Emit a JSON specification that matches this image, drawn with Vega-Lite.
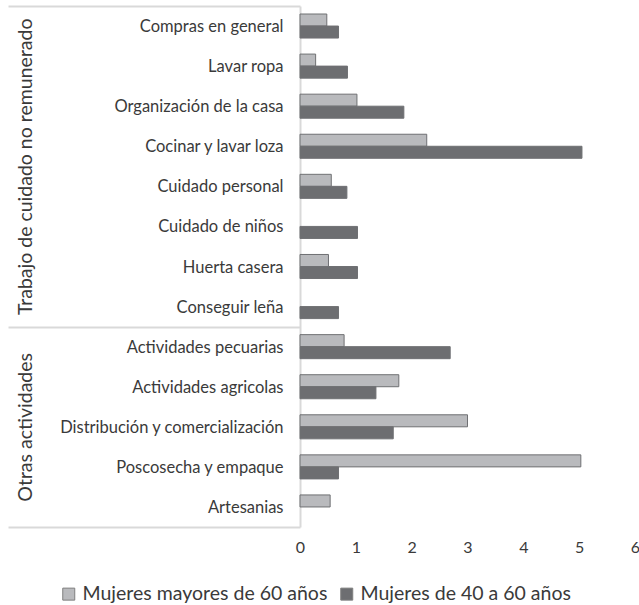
{
  "$schema": "https://vega.github.io/schema/vega-lite/v6.json",
  "width": 335,
  "height": 521,
  "autosize": "none",
  "padding": {"left": 300, "top": 6, "right": 4, "bottom": 78},
  "background": "white",
  "config": {"view": {"stroke": null}, "font": "Lato"},
  "data": {"values": [
    {"actividad": "Compras en general", "serie": "Mujeres mayores de 60 años", "valor": 0.48},
    {"actividad": "Compras en general", "serie": "Mujeres de 40 a 60 años", "valor": 0.69},
    {"actividad": "Lavar ropa", "serie": "Mujeres mayores de 60 años", "valor": 0.28},
    {"actividad": "Lavar ropa", "serie": "Mujeres de 40 a 60 años", "valor": 0.85},
    {"actividad": "Organización de la casa", "serie": "Mujeres mayores de 60 años", "valor": 1.02},
    {"actividad": "Organización de la casa", "serie": "Mujeres de 40 a 60 años", "valor": 1.86},
    {"actividad": "Cocinar y lavar loza", "serie": "Mujeres mayores de 60 años", "valor": 2.27},
    {"actividad": "Cocinar y lavar loza", "serie": "Mujeres de 40 a 60 años", "valor": 5.05},
    {"actividad": "Cuidado personal", "serie": "Mujeres mayores de 60 años", "valor": 0.56},
    {"actividad": "Cuidado personal", "serie": "Mujeres de 40 a 60 años", "valor": 0.84},
    {"actividad": "Cuidado de niños", "serie": "Mujeres de 40 a 60 años", "valor": 1.03},
    {"actividad": "Huerta casera", "serie": "Mujeres mayores de 60 años", "valor": 0.51},
    {"actividad": "Huerta casera", "serie": "Mujeres de 40 a 60 años", "valor": 1.03},
    {"actividad": "Conseguir leña", "serie": "Mujeres de 40 a 60 años", "valor": 0.69},
    {"actividad": "Actividades pecuarias", "serie": "Mujeres mayores de 60 años", "valor": 0.79},
    {"actividad": "Actividades pecuarias", "serie": "Mujeres de 40 a 60 años", "valor": 2.69},
    {"actividad": "Actividades agricolas", "serie": "Mujeres mayores de 60 años", "valor": 1.77},
    {"actividad": "Actividades agricolas", "serie": "Mujeres de 40 a 60 años", "valor": 1.36},
    {"actividad": "Distribución y comercialización", "serie": "Mujeres mayores de 60 años", "valor": 3.0},
    {"actividad": "Distribución y comercialización", "serie": "Mujeres de 40 a 60 años", "valor": 1.67},
    {"actividad": "Poscosecha y empaque", "serie": "Mujeres mayores de 60 años", "valor": 5.03},
    {"actividad": "Poscosecha y empaque", "serie": "Mujeres de 40 a 60 años", "valor": 0.69},
    {"actividad": "Artesanias", "serie": "Mujeres mayores de 60 años", "valor": 0.54}
  ]},
  "layer": [
    {
      "mark": {"type": "bar", "stroke": "#6f7073", "strokeWidth": 1},
      "encoding": {
        "y": {
          "field": "actividad", "type": "nominal",
          "sort": ["Compras en general", "Lavar ropa", "Organización de la casa", "Cocinar y lavar loza", "Cuidado personal", "Cuidado de niños", "Huerta casera", "Conseguir leña", "Actividades pecuarias", "Actividades agricolas", "Distribución y comercialización", "Poscosecha y empaque", "Artesanias"],
          "scale": {"paddingInner": 0.4, "paddingOuter": 0.2},
          "axis": {"title": null, "ticks": false, "domainColor": "#d9d9d9", "domainWidth": 2, "labelPadding": 17, "labelFontSize": 16.5, "labelColor": "#3a3a3a", "labelLimit": 0, "labelOffset": 1}
        },
        "yOffset": {
          "field": "serie", "type": "nominal",
          "sort": ["Mujeres mayores de 60 años", "Mujeres de 40 a 60 años"],
          "scale": {"paddingInner": 0, "paddingOuter": 0}
        },
        "x": {
          "field": "valor", "type": "quantitative",
          "scale": {"domain": [0, 6], "nice": false},
          "axis": {"title": null, "values": [0, 1, 2, 3, 4, 5, 6], "grid": false, "ticks": false, "domain": false, "labelPadding": 12, "labelFontSize": 16, "labelColor": "#3a3a3a", "labelFlush": false, "labelBound": false}
        },
        "color": {
          "field": "serie", "type": "nominal",
          "sort": ["Mujeres mayores de 60 años", "Mujeres de 40 a 60 años"],
          "scale": {"domain": ["Mujeres mayores de 60 años", "Mujeres de 40 a 60 años"], "range": ["#b9babd", "#6d6e71"]},
          "legend": {"title": null, "orient": "none", "direction": "horizontal", "legendX": -241, "legendY": 578, "labelFontSize": 19.5, "labelColor": "#3a3a3a", "symbolType": "square", "symbolSize": 144, "symbolStrokeColor": "#7f7f7f", "symbolStrokeWidth": 1, "columnPadding": 9, "labelLimit": 0}
        }
      }
    },
    {
      "mark": {"type": "point", "opacity": 0},
      "encoding": {
        "y": {
          "datum": 0, "type": "quantitative",
          "scale": {"domain": [0, 13], "reverse": true, "nice": false, "zero": false},
          "axis": {
            "orient": "left", "title": null, "domain": false, "grid": false,
            "values": [0, 4, 8, 10.5, 13],
            "tickSize": 292, "tickColor": "#d9d9d9", "tickWidth": 2,
            "tickOpacity": {"condition": {"test": "datum.value == 4 || datum.value == 10.5", "value": 0}, "value": 1},
            "labelExpr": "datum.value == 4 ? 'Trabajo de cuidado no remunerado' : (datum.value == 10.5 ? 'Otras actividades' : '')",
            "labelAngle": -90, "labelAlign": "center", "labelBaseline": "middle",
            "labelPadding": -17, "labelFontSize": 19.5, "labelColor": "#3a3a3a",
            "labelLimit": 0, "labelOverlap": false, "labelFlush": false, "labelBound": false
          }
        }
      }
    }
  ],
  "resolve": {"scale": {"y": "independent"}, "axis": {"y": "independent"}}
}
